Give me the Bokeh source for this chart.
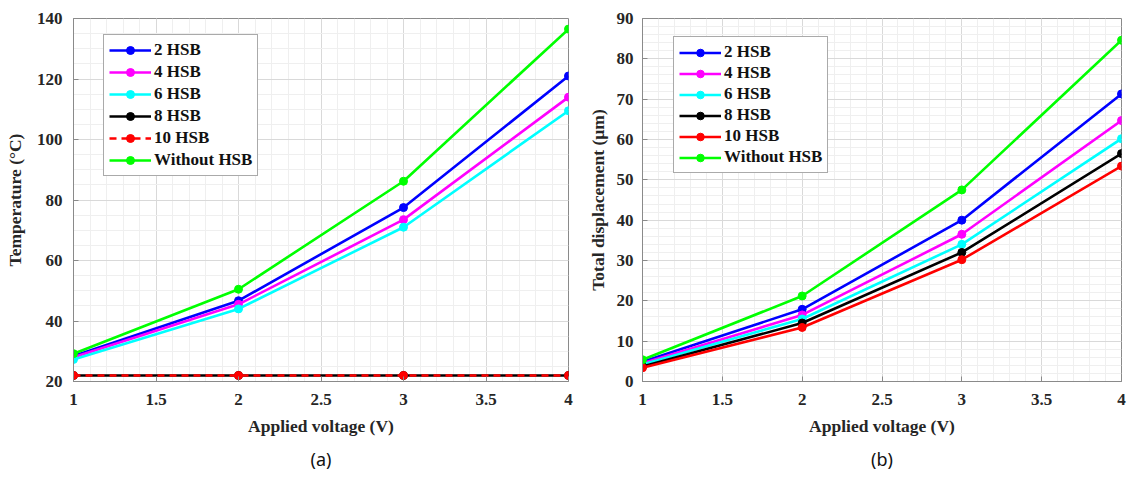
from bokeh.plotting import figure
from bokeh.models import (Range1d, SingleIntervalTicker, NumeralTickFormatter,
                          Legend)
from bokeh.layouts import row
from bokeh.embed import file_html
from bokeh.resources import INLINE

# ---------------- data ----------------
voltage = [1, 2, 3, 4]
series_names = ["2 HSB", "4 HSB", "6 HSB", "8 HSB", "10 HSB", "Without HSB"]
series_colors = ["#0000ff", "#ff00ff", "#00ffff", "#000000", "#ff0000", "#00ff00"]

# (a) Temperature (°C)
temp_2hsb = [28.4, 46.7, 77.5, 121.0]
temp_4hsb = [28.0, 45.5, 73.5, 114.0]
temp_6hsb = [27.3, 44.0, 71.0, 109.5]
temp_8hsb = [22.0, 22.0, 22.0, 22.0]
temp_10hsb = [22.0, 22.0, 22.0, 22.0]
temp_without = [29.2, 50.5, 86.2, 136.5]

# (b) Total displacement (µm)
disp_2hsb = [4.9, 17.9, 40.0, 71.3]
disp_4hsb = [4.5, 16.5, 36.5, 64.7]
disp_6hsb = [4.2, 15.5, 34.0, 60.2]
disp_8hsb = [3.7, 14.5, 32.0, 56.5]
disp_10hsb = [3.4, 13.4, 30.2, 53.4]
disp_without = [5.4, 21.2, 47.5, 84.6]

temp_series = [temp_2hsb, temp_4hsb, temp_6hsb, temp_8hsb, temp_10hsb, temp_without]
disp_series = [disp_2hsb, disp_4hsb, disp_6hsb, disp_8hsb, disp_10hsb, disp_without]
temp_dashes = ["solid", "solid", "solid", "solid", "7 5", "solid"]
disp_dashes = ["solid"] * 6

x_range = (1, 4)
temp_range = (20, 140)
disp_range = (0, 90)

SERIF = "Liberation Serif"
FRAME = "#8a8a8a"
TXT = "#262626"


def style_axis(ax):
    ax.axis_line_color = FRAME
    ax.major_tick_line_color = FRAME
    ax.major_tick_in = 5
    ax.major_tick_out = 0
    ax.minor_tick_line_color = None
    ax.major_label_text_font = SERIF
    ax.major_label_text_font_style = "bold"
    ax.major_label_text_color = TXT
    ax.major_label_text_font_size = "17px"
    ax.axis_label_text_font = SERIF
    ax.axis_label_text_font_style = "bold"
    ax.axis_label_text_color = TXT
    ax.axis_label_text_font_size = "17.5px"


def make_panel(series, dashes, yr, yint, yminor, ylabel, caption, width,
               bl, br, legend_xy, item_h, item_sp, ylab_so, ytick_so):
    p = figure(width=width, height=476, output_backend="svg",
               toolbar_location=None,
               x_range=Range1d(*x_range), y_range=Range1d(*yr),
               min_border_left=bl, min_border_right=br,
               min_border_top=18, min_border_bottom=93)
    p.background_fill_color = "white"
    p.border_fill_color = "white"
    p.outline_line_color = FRAME
    p.outline_line_width = 1

    xt = SingleIntervalTicker(interval=0.5, num_minor_ticks=5)
    yt = SingleIntervalTicker(interval=yint, num_minor_ticks=yminor)
    p.xaxis.ticker = xt
    p.yaxis.ticker = yt
    p.xaxis.formatter = NumeralTickFormatter(format="0.[0]")
    p.xaxis.axis_label = "Applied voltage (V)"
    p.yaxis.axis_label = ylabel
    p.xaxis.major_label_standoff = 8
    p.yaxis.major_label_standoff = ytick_so
    p.xaxis.axis_label_standoff = 8
    p.yaxis.axis_label_standoff = ylab_so
    for ax in p.xaxis + p.yaxis:
        style_axis(ax)

    for g in (p.xgrid[0], p.ygrid[0]):
        g.grid_line_color = "#d9d9d9"
        g.minor_grid_line_color = "#efefef"
    p.xgrid[0].ticker = xt
    p.ygrid[0].ticker = yt

    items = []
    for name, color, ys, dash in zip(series_names, series_colors, series, dashes):
        r1 = p.line(voltage, ys, line_color=color, line_width=2.6, line_dash=dash)
        r2 = p.scatter(voltage, ys, marker="circle", size=8,
                       fill_color=color, line_color=color)
        items.append((name, [r1, r2]))

    leg = Legend(items=items, location=legend_xy)
    leg.label_text_font = SERIF
    leg.label_text_font_style = "bold"
    leg.label_text_font_size = "17px"
    leg.label_text_color = "#111111"
    leg.glyph_width = 42
    leg.glyph_height = item_h
    leg.label_height = item_h
    leg.label_standoff = 3
    leg.spacing = item_sp
    leg.padding = 5
    leg.margin = 0
    leg.border_line_color = "#555555"
    leg.border_line_width = 1
    leg.background_fill_color = "white"
    leg.background_fill_alpha = 1
    p.add_layout(leg, "center")

    p.title.text = caption
    p.title_location = "below"
    p.title.align = "center"
    p.title.text_font = "Noto Sans"
    p.title.text_font_size = "18px"
    p.title.text_font_style = "normal"
    p.title.text_color = "#111111"
    p.title.standoff = 12
    return p


p1 = make_panel(temp_series, temp_dashes, temp_range, 20, 4,
                "Temperature (°C)", "(a)", 583, 73, 15, (30, 205), 20, 2, 9, 7)
p2 = make_panel(disp_series, disp_dashes, disp_range, 10, 5,
                "Total displacement (µm)", "(b)", 545, 59, 7, (31, 208), 19, 1, 6, 5)

layout = row(p1, p2)
open("out.html", "w").write(file_html(layout, INLINE))
